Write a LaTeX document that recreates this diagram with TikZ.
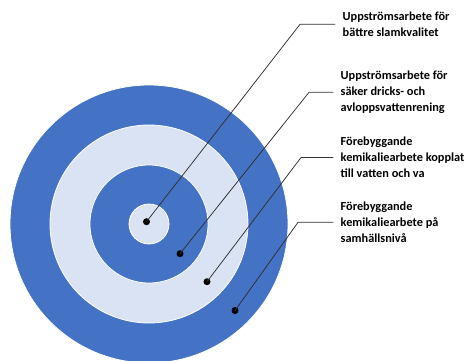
\documentclass[tikz,border=0pt]{standalone}
\usepackage{fontspec}
\setmainfont{Carlito}
\usetikzlibrary{positioning}
\definecolor{ringdark}{HTML}{4472C4}
\definecolor{ringlight}{HTML}{DAE3F3}
\definecolor{leader}{HTML}{303030}

\begin{document}
\begin{tikzpicture}[line cap=round,line join=round,x=1pt,y=-1pt,
    dot/.style={circle,fill=black,inner sep=0pt,minimum size=7pt},
    lbl/.style={anchor=west,align=left,inner ysep=0pt,inner xsep=7.5pt,
      font=\fontsize{12.3}{16}\selectfont\bfseries}]
    \useasboundingbox (0,0) rectangle (475,360);
    \clip (0,0) rectangle (475,360);
    \foreach \r/\c in {139/ringdark,99/ringlight,59/ringdark,20/ringlight}
    \draw[white,line width=0.8pt,fill=\c] (149,224) circle (\r pt);
    \node[lbl] (t1) at (335,24.3) {Uppströmsarbete för\\bättre slamkvalitet};
    \node[lbl] (t2) at (333,92.3) {Uppströmsarbete för\\säker dricks- och\\avloppsvattenrening};
    \node[lbl] (t3) at (333,157.5) {Förebyggande\\kemikaliearbete kopplat\\till vatten och va};
    \node[lbl] (t4) at (333,222.3) {Förebyggande\\kemikaliearbete på\\samhällsnivå};
    \coordinate (e1) at (300,24.3);
    \coordinate (e2) at (309,92.3);
    \coordinate (e3) at (301,157.5);
    \coordinate (e4) at (298,222.3);
    \node[dot] (d1) at (146.5,221.7) {};
    \node[dot] (d2) at (180,253.7) {};
    \node[dot] (d3) at (207,281.7) {};
    \node[dot] (d4) at (235,310.5) {};
    \foreach \i in {1,2,3,4}
    \draw[leader,line width=0.75pt] (d\i.center) -- (e\i) -- (t\i.west);
\end{tikzpicture}
\end{document}
